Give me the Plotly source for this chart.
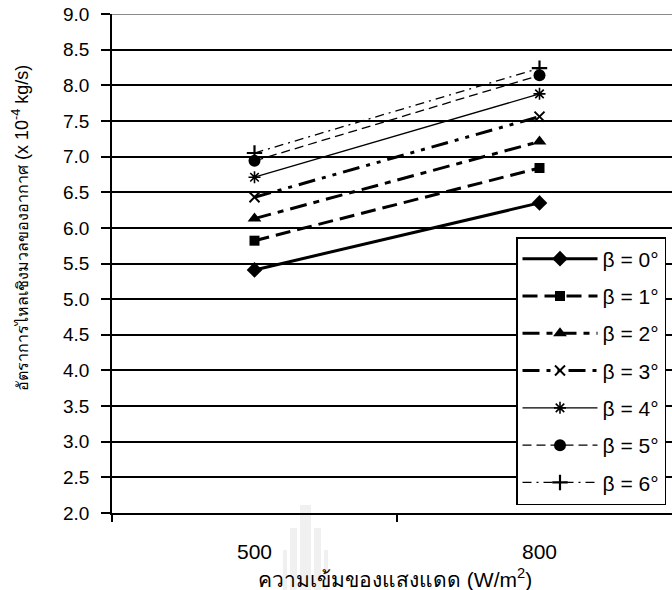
import plotly.graph_objects as go

x_categories = ["500", "800"]
series_names = ["β = 0°", "β = 1°", "β = 2°", "β = 3°", "β = 4°", "β = 5°", "β = 6°"]
beta0 = [5.41, 6.35]
beta1 = [5.82, 6.84]
beta2 = [6.13, 7.21]
beta3 = [6.43, 7.56]
beta4 = [6.71, 7.88]
beta5 = [6.94, 8.14]
beta6 = [7.05, 8.24]
series_values = [beta0, beta1, beta2, beta3, beta4, beta5, beta6]
y_ticks = [2.0, 2.5, 3.0, 3.5, 4.0, 4.5, 5.0, 5.5, 6.0, 6.5, 7.0, 7.5, 8.0, 8.5, 9.0]

styles = [
    dict(dash="solid", width=3, symbol="diamond", size=12, mlw=0),
    dict(dash="15px,7px", width=3, symbol="square", size=10, mlw=0),
    dict(dash="17px,7px,6px,7px", width=3, symbol="triangle-up", size=12, mlw=0),
    dict(dash="17px,7px,4px,7px,4px,7px", width=3, symbol="x-thin-open", size=10, mlw=2),
    dict(dash="solid", width=1.3, symbol="asterisk-open", size=10, mlw=1.6),
    dict(dash="9px,5px", width=1.3, symbol="circle", size=12, mlw=0),
    dict(dash="9px,5px,2px,5px", width=1.3, symbol="cross-thin-open", size=11, mlw=2.2),
]

fig = go.Figure()
for i, (name, vals, st) in enumerate(zip(series_names, series_values, styles)):
    fig.add_trace(go.Scatter(
        x=x_categories, y=vals, name=name, mode="lines+markers",
        legendgroup=str(i),
        line=dict(color="black", width=st["width"], dash=st["dash"]),
        marker=dict(symbol=st["symbol"], size=st["size"], color="black",
                    line=dict(color="black", width=st["mlw"])),
    ))

L, T, W, H = 112, 14, 560, 499
cat_px = 285.0

def px_x(p):
    return (p - L) / W

def px_y(p):
    return (T + H - p) / H

# faint watermark (decorative)
wm_bars = [(300, 311, 505), (290, 297, 528), (314, 321, 528), (283, 287, 550), (324, 328, 550)]
shapes = []
for x0, x1, y0 in wm_bars:
    shapes.append(dict(type="rect", xref="paper", yref="paper", x0=px_x(x0), x1=px_x(x1),
                       y0=px_y(590), y1=px_y(y0), fillcolor="#f0f0f0", line=dict(width=0),
                       layer="below"))
shapes.append(dict(type="line", xref="paper", yref="y", x0=0, x1=1, y0=9.0, y1=9.0,
                   line=dict(color="#8a8a8a", width=2), layer="above"))

fig.update_layout(
    width=672, height=590,
    margin=dict(l=L, r=672 - L - W, t=T, b=590 - T - H, pad=0),
    paper_bgcolor="white", plot_bgcolor="rgba(0,0,0,0)",
    font=dict(family="Liberation Sans, Arial, sans-serif", size=19, color="black"),
    showlegend=True,
    legend=dict(
        x=px_x(516), y=px_y(237), xanchor="left", yanchor="top",
        bordercolor="black", borderwidth=1.5, bgcolor="white",
        font=dict(size=21), itemwidth=75, tracegroupgap=7,
        traceorder="grouped",
    ),
    xaxis=dict(
        type="category", range=[-0.5, -0.5 + W / cat_px],
        tickson="boundaries", ticks="outside", ticklen=7, tickwidth=1.5, tickcolor="black",
        showline=True, linecolor="black", linewidth=1.5, showgrid=False,
        tickfont=dict(size=21), ticklabelstandoff=19,
    ),
    yaxis=dict(
        range=[2.0, 9.0], tickvals=y_ticks, ticktext=[f"{v:.1f}" for v in y_ticks],
        ticks="outside", ticklen=9, tickwidth=1.5, tickcolor="black",
        showline=True, linecolor="black", linewidth=1.5,
        showgrid=True, gridcolor="black", gridwidth=1.5,
        tickfont=dict(size=19), zeroline=False, ticklabelstandoff=8,
    ),
    shapes=shapes,
    annotations=[
        dict(text="<span style='font-size:16px'>อัตราการไหลเชิงมวลของอากาศ</span> (x 10<sup>-4</sup> kg/s)",
             xref="paper", yref="paper", x=px_x(20), y=px_y(228),
             textangle=-90, showarrow=False, xanchor="center", yanchor="middle",
             font=dict(size=18)),
        dict(text="ความเข้มของแสงแดด (W/m<sup>2</sup>)",
             xref="paper", yref="paper", x=px_x(395), y=px_y(578),
             showarrow=False, xanchor="center", yanchor="middle",
             font=dict(size=21)),
    ],
)

fig.write_html("out.html")
